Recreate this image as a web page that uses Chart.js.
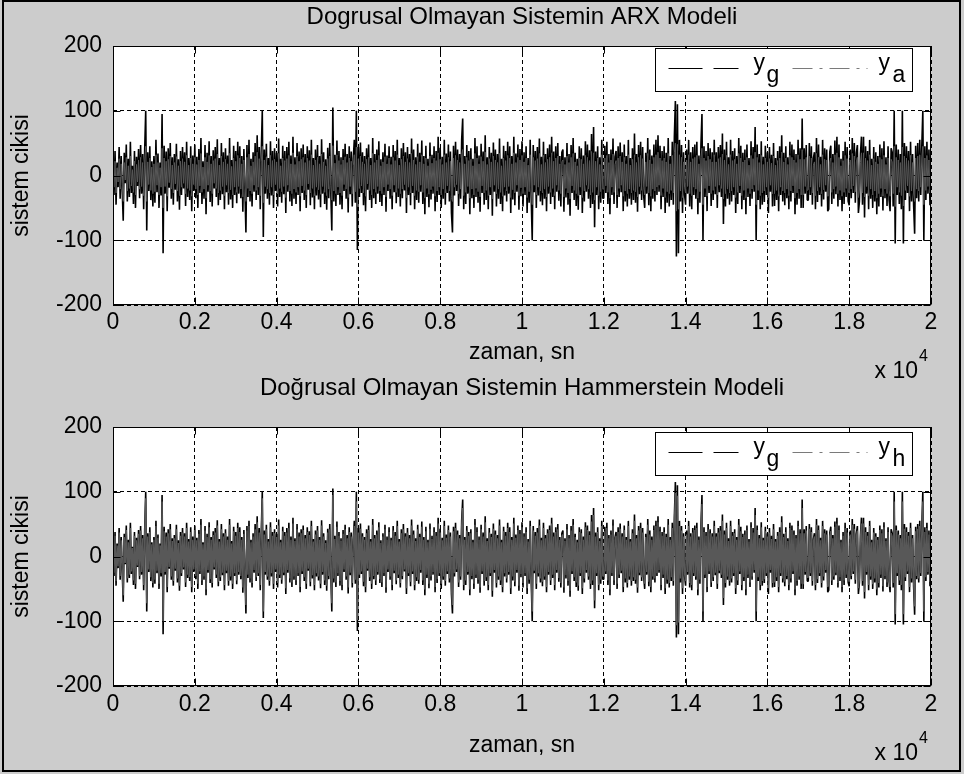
<!DOCTYPE html>
<html>
<head>
<meta charset="utf-8">
<script src="https://cdn.jsdelivr.net/npm/chart.js@4.4.0/dist/chart.umd.min.js"></script>
<style>
  html, body { margin:0; padding:0; }
  body { width:964px; height:774px; background:#cccccc; position:relative; overflow:hidden; }
  canvas { position:absolute; left:0; }
  #c1 { top:0; }
  #c2 { top:370px; }
  #frame { position:absolute; left:2px; top:0; width:959px; height:772px; border:2px solid #000; box-sizing:border-box; pointer-events:none; }
</style>
</head>
<body>
<canvas id="c1" width="964" height="385"></canvas>
<canvas id="c2" width="964" height="404"></canvas>
<div id="frame"></div>
<script>
// ---- data ----
const xTickLabels = ['0','0.2','0.4','0.6','0.8','1','1.2','1.4','1.6','1.8','2'];
const yTickLabels = ['-200','-100','0','100','200'];
const sampleStep = 25; // time between samples (sn)

// measured system output y_g (same in both panels)
const ygValues = [
 12,-30,38,-45,20,-18,44,-36,30,-22, -70,35,-12,48,-40,26,-33,52,-27,15, -44,38,-50,29,-16,41,-35,47,-28,33, -52,40,100,-85,36,-24,45,-38,22,-48,
 30,-42,55,-26,34,-50,20,-31,95,-120, 46,-28,37,-55,42,-19,50,-36,28,-45, 33,-22,49,-40,25,-53,38,-30,44,-20, 36,-47,52,-33,27,-38,45,-55,31,-24,
 48,-35,29,-50,41,-27,58,-44,22,-36, 47,-60,35,-25,53,-41,30,-48,39,-20, 44,-33,56,-46,27,-38,50,-29,36,-52, 42,-26,31,-45,58,-37,24,-50,46,-30,
 38,-43,52,-28,45,-35,30,-56,41,-22, -88,47,-33,55,-40,26,-48,36,-25,50, -38,62,-30,44,-52,35,100,-95,40,-28, 49,-36,27,-45,53,-31,38,-50,42,-24,
 35,-48,57,-33,26,-42,46,-29,38,-58, 44,-25,52,-40,31,-47,60,-36,28,-44, 50,-30,37,-55,42,-27,48,-38,33,-50, 45,-22,39,-46,55,-34,27,-52,40,-31,
 47,-37,30,-49,56,-28,36,-44,25,-53, 43,-35,50,-26,-85,105,-40,32,-47,54, -30,38,-45,28,-52,41,-24,49,-36,33, -57,45,-29,37,-48,26,55,-42,100,-115,
 44,-33,51,-27,36,-46,30,-55,42,-22, 48,-38,27,-50,58,-35,33,-44,40,-28, 53,-41,25,-47,36,-30,49,-56,31,-24, 45,-36,29,-52,47,-26,38,-43,55,-33,
 27,-48,42,-35,50,-23,36,-58,44,-30, 33,-46,57,-27,40,-52,28,-38,49,-42, 35,-25,54,-44,30,-60,46,-33,26,-49, 51,-37,32,-28,45,-55,38,-41,60,-30,
 43,-50,29,-36,55,-45,34,-27,48,-40, 37,-58,-88,46,-31,52,-24,40,-47,33, -36,55,88,-52,30,-44,47,-28,38,-60, 42,-35,26,-50,58,-33,45,-42,31,-56,
 49,-27,37,-45,62,-38,28,-52,44,-30, 35,-62,51,-25,40,-48,33,-36,57,-44, 26,-55,46,-31,38,-40,52,-28,45,-58, 30,-37,60,-46,34,-25,48,-53,41,-32,
 53,-48,36,-30,45,-58,27,-42,55,-35, -100,47,-26,38,-50,44,-31,57,-40,29, -46,52,-36,33,-55,42,-28,48,-44,60, -33,37,-52,45,-25,50,-39,30,-48,36,
 40,-56,28,-34,50,-45,33,-62,47,-27, 58,-38,35,-47,26,-53,45,-30,42,-58, 31,-40,53,-25,48,-36,39,-50,64,-44, 75,-80,37,-30,45,-52,28,-42,55,-35,
 -35,46,-27,52,-44,33,-60,40,-30,57, -44,29,38,-50,45,-33,51,-26,36,-55, 48,-40,30,-48,55,-36,27,-45,42,-38, 65,-42,33,-56,47,-29,52,-38,44,-31,
 -50,35,-28,58,-46,40,-55,31,-36,48, -40,55,-30,62,-25,46,-52,38,-33,45, -58,35,-42,58,-48,30,-38,52,-45,60, 115,-125,110,-120,55,-40,47,-58,36,-30,
 -45,40,-28,55,-48,36,-52,44,-30,48, -36,52,-60,31,-42,47,95,-100,45,-33, 38,-55,50,-27,42,-47,36,-38,55,-29, 36,-50,44,-26,47,-33,65,-75,40,-48,
 52,-36,28,-45,55,-40,38,-30,42,-58, 30,-44,58,-27,46,-52,35,-38,40,-60, 48,-33,27,-47,53,-36,44,-25,75,-100, 48,-38,33,-52,53,-45,29,-41,46,-30,
 36,-58,44,-25,32,-48,50,-47,27,-38, 38,-55,45,-30,62,-40,35,-46,45,-35, 28,-52,52,-40,48,-27,40,-60,33,-45, 55,-36,42,-50,88,-50,42,-28,47,-38,
 -38,50,-30,45,-45,27,36,-52,58,-41, 48,-30,29,-48,55,-37,42,-25,40,-55, -52,36,46,-44,33,-36,54,-29,60,-48, 48,-38,26,-55,38,-44,52,-33,44,-40,
 -46,40,-35,58,-27,50,-42,35,47,-58, -40,33,60,-45,60,-65,45,-28,38,-52, 55,-36,26,-50,44,-40,36,-60,30,-48, 48,-33,42,-54,53,-35,28,-47,45,-38,
 -55,42,36,-48,100,-105,48,-30,40,-44, 33,-52,100,-105,50,-38,45,-27,38,-55, 52,-40,33,-46,-90,46,-35,50,-40,55, -30,45,100,-100,45,-38,52,-28,40,-46,
 30
];

// ARX model output y_a (top panel)
const yaValues = [
 8,-18,22,-27,12,-10,26,-21,18,-13, -40,20,-7,28,-24,15,-20,30,-16,9, -26,22,-30,17,-10,24,-21,28,-17,20, -31,24,45,-40,21,-14,27,-23,13,-28,
 18,-25,32,-15,20,-30,12,-18,42,-50, 27,-17,22,-32,25,-11,30,-21,16,-27, 20,-13,29,-24,15,-31,22,-18,26,-12, 21,-28,31,-20,16,-23,27,-32,18,-14,
 28,-21,17,-30,24,-16,34,-26,13,-21, 28,-35,21,-15,31,-24,18,-28,23,-12, 26,-20,33,-27,16,-23,30,-17,21,-31, 25,-15,18,-27,34,-22,14,-30,27,-18,
 22,-26,31,-17,27,-21,18,-33,24,-13, -40,28,-20,33,-24,15,-28,21,-15,30, -23,36,-18,26,-31,21,45,-42,24,-17, 29,-21,16,-27,31,-18,23,-30,25,-14,
 21,-28,34,-20,15,-25,27,-17,23,-34, 26,-15,31,-24,18,-28,35,-21,17,-26, 30,-18,22,-32,25,-16,28,-23,20,-30, 27,-13,23,-27,32,-20,16,-31,24,-18,
 28,-22,18,-29,33,-17,21,-26,15,-31, 26,-21,30,-15,-38,46,-24,19,-28,32, -18,23,-27,17,-31,24,-14,29,-21,20, -34,27,-17,22,-28,15,32,-25,44,-48,
 26,-20,30,-16,21,-27,18,-32,25,-13, 28,-23,16,-30,34,-21,20,-26,24,-17, 31,-24,15,-28,21,-18,29,-33,18,-14, 27,-21,17,-31,28,-15,23,-26,32,-20,
 16,-28,25,-21,30,-14,21,-34,26,-18, 20,-27,34,-16,24,-31,17,-23,29,-25, 21,-15,32,-26,18,-35,27,-20,15,-29, 30,-22,19,-17,27,-32,23,-24,35,-18,
 25,-30,17,-21,32,-27,20,-16,28,-24, 22,-34,-40,27,-18,31,-14,24,-28,20, -21,32,40,-31,18,-26,28,-17,23,-35, 25,-21,15,-30,34,-20,27,-25,18,-33,
 29,-16,22,-27,36,-23,17,-31,26,-18, 21,-36,30,-15,24,-28,20,-21,34,-26, 15,-32,27,-18,23,-24,31,-17,27,-34, 18,-22,35,-27,20,-15,28,-31,24,-19,
 31,-28,21,-18,27,-34,16,-25,32,-21, -45,28,-15,23,-30,26,-18,34,-24,17, -27,31,-21,20,-33,25,-17,28,-26,35, -20,22,-31,27,-15,30,-23,18,-28,21,
 24,-33,17,-20,30,-27,20,-36,28,-16, 34,-23,21,-28,15,-31,27,-18,25,-34, 18,-24,31,-15,28,-21,23,-30,37,-26, 35,-38,22,-18,27,-31,17,-25,32,-21,
 -21,27,-16,31,-26,20,-35,24,-18,33, -26,17,23,-30,27,-20,30,-15,21,-32, 28,-24,18,-28,32,-21,16,-27,25,-23, 32,-25,20,-33,28,-17,31,-23,26,-18,
 -30,21,-17,34,-27,24,-32,18,-21,28, -24,32,-18,36,-15,27,-31,23,-20,27, -34,21,-25,34,-28,18,-23,31,-27,35, 50,-55,48,-52,32,-24,28,-34,21,-18,
 -27,24,-17,32,-28,21,-31,26,-18,28, -21,31,-35,18,-25,28,42,-45,27,-20, 23,-32,30,-16,25,-28,21,-23,32,-17, 21,-30,26,-15,28,-20,33,-36,24,-28,
 31,-21,17,-27,32,-24,23,-18,25,-34, 18,-26,34,-16,27,-31,21,-23,24,-35, 28,-20,16,-28,31,-21,26,-15,36,-45, 28,-23,20,-31,31,-27,17,-24,27,-18,
 21,-34,26,-15,19,-28,30,-28,16,-23, 23,-32,27,-18,36,-24,21,-27,27,-21, 17,-31,31,-24,28,-16,24,-35,20,-27, 32,-21,25,-30,40,-30,25,-17,28,-23,
 -22,30,-18,27,-27,16,21,-31,34,-24, 28,-18,17,-28,32,-22,25,-15,24,-32, -31,21,27,-26,20,-21,32,-17,35,-28, 28,-23,15,-32,23,-26,31,-20,26,-24,
 -27,24,-21,34,-16,30,-25,21,28,-34, -24,20,35,-27,35,-33,27,-17,23,-31, 32,-21,16,-30,26,-24,21,-35,18,-28, 28,-20,25,-32,31,-21,17,-28,27,-23,
 -32,25,21,-28,45,-48,28,-18,24,-26, 20,-31,44,-47,30,-23,27,-16,23,-32, 31,-24,20,-27,-40,27,-21,30,-24,32, -18,27,45,-45,27,-23,31,-17,24,-27,
 18
];

// Hammerstein model output y_h (bottom panel)
const yhValues = [
 10,-25,32,-38,17,-15,37,-30,25,-19, -60,30,-10,41,-34,22,-28,44,-23,13, -37,32,-42,25,-14,35,-30,40,-24,28, -44,34,90,-72,31,-20,38,-32,19,-41,
 26,-36,47,-22,29,-42,17,-26,85,-100, 39,-24,31,-47,36,-16,42,-31,24,-38, 28,-19,42,-34,21,-45,32,-26,37,-17, 31,-40,44,-28,23,-32,38,-47,26,-20,
 41,-30,25,-42,35,-23,49,-37,19,-31, 40,-51,30,-21,45,-35,26,-41,33,-17, 37,-28,48,-39,23,-32,42,-25,31,-44, 36,-22,26,-38,49,-31,20,-42,39,-26,
 32,-37,44,-24,38,-30,26,-48,35,-19, -75,40,-28,47,-34,22,-41,31,-21,42, -32,53,-26,37,-44,30,90,-85,34,-24, 42,-31,23,-38,45,-26,32,-42,36,-20,
 30,-41,48,-28,22,-36,39,-25,32,-49, 37,-21,44,-34,26,-40,51,-31,24,-37, 42,-26,31,-47,36,-23,41,-32,28,-42, 38,-19,33,-39,47,-29,23,-44,34,-26,
 40,-31,26,-42,48,-24,31,-37,21,-45, 37,-30,42,-22,-72,95,-34,27,-40,46, -26,32,-38,24,-44,35,-20,42,-31,28, -48,38,-25,31,-41,22,47,-36,85,-98,
 37,-28,43,-23,31,-39,26,-47,36,-19, 41,-32,23,-42,49,-30,28,-37,34,-24, 45,-35,21,-40,31,-26,42,-48,26,-20, 38,-31,25,-44,40,-22,32,-37,47,-28,
 23,-41,36,-30,42,-20,31,-49,37,-26, 28,-39,48,-23,34,-44,24,-32,42,-36, 30,-21,46,-37,26,-51,39,-28,22,-42, 43,-31,27,-24,38,-47,32,-35,51,-26,
 37,-42,25,-31,47,-38,29,-23,41,-34, 31,-49,-75,39,-26,44,-20,34,-40,28, -31,47,75,-44,26,-37,40,-24,32,-51, 36,-30,22,-42,49,-28,38,-36,26,-48,
 42,-23,31,-38,53,-32,24,-44,37,-26, 30,-53,43,-21,34,-41,28,-31,48,-37, 22,-47,39,-26,32,-34,44,-24,38,-49, 26,-31,51,-39,29,-21,41,-45,35,-27,
 45,-41,31,-26,38,-49,23,-36,47,-30, -85,40,-22,32,-42,37,-26,48,-34,25, -39,44,-31,28,-47,36,-24,41,-37,51, -28,31,-44,38,-21,42,-33,26,-41,31,
 34,-48,24,-29,42,-38,28,-53,40,-23, 49,-32,30,-40,22,-45,38,-26,36,-49, 26,-34,45,-21,41,-31,33,-42,54,-37, 64,-68,31,-26,38,-44,24,-36,47,-30,
 -30,39,-23,44,-37,28,-51,34,-26,48, -37,25,32,-42,38,-28,43,-22,31,-47, 41,-34,26,-41,47,-31,23,-38,36,-32, 55,-36,28,-48,40,-25,44,-32,37,-26,
 -42,30,-24,49,-39,34,-47,26,-31,41, -34,47,-26,53,-21,39,-44,32,-28,38, -49,30,-36,49,-41,26,-32,44,-38,51, 98,-106,94,-102,47,-34,40,-49,31,-26,
 -38,34,-24,47,-41,31,-44,37,-26,41, -31,44,-51,26,-36,40,81,-85,38,-28, 32,-47,42,-23,36,-40,31,-32,47,-25, 31,-42,37,-22,40,-28,55,-64,34,-41,
 44,-31,24,-38,47,-34,32,-26,36,-49, 26,-37,49,-23,39,-44,30,-32,34,-51, 41,-28,23,-40,45,-31,37,-21,64,-85, 41,-32,28,-44,45,-38,25,-35,39,-26,
 31,-49,37,-21,27,-41,42,-40,23,-32, 32,-47,38,-26,53,-34,30,-39,38,-30, 24,-44,44,-34,41,-23,34,-51,28,-38, 47,-31,36,-42,75,-43,36,-24,40,-32,
 -32,43,-26,38,-38,23,31,-44,49,-35, 41,-26,25,-41,47,-31,36,-21,34,-47, -44,31,39,-37,28,-31,46,-25,51,-41, 41,-32,22,-47,32,-37,44,-28,37,-34,
 -39,34,-30,49,-23,43,-36,30,40,-49, -34,28,51,-38,51,-55,38,-24,32,-44, 47,-31,22,-43,37,-34,31,-51,26,-41, 41,-28,36,-46,45,-30,24,-40,38,-32,
 -47,36,31,-41,85,-89,41,-26,34,-37, 28,-44,85,-89,43,-32,38,-23,32,-47, 44,-34,28,-39,-77,39,-30,43,-34,47, -26,38,85,-85,38,-32,44,-24,34,-39,
 26
];

// ---- rendering ----
const FONT = "'Liberation Sans', Arial, Helvetica, sans-serif";
const FS = 23;
const toPoints = vals => vals.map((v, i) => ({x: i * sampleStep, y: v}));

function framePlugin(cfg) {
  return {
    id: 'matlabFrame',
    beforeDraw(chart) {
      const {ctx, chartArea: a} = chart;
      ctx.save();
      ctx.fillStyle = '#ffffff';
      ctx.fillRect(a.left, a.top, a.right - a.left, a.bottom - a.top);
      ctx.restore();
    },
    afterDatasetsDraw(chart) {
      const {ctx, chartArea: a, scales} = chart;
      ctx.save();
      ctx.strokeStyle = '#000';
      ctx.lineWidth = 1;
      ctx.setLineDash([]);
      const L = Math.round(a.left) + 0.5, R = Math.round(a.right) - 0.5;
      const T = Math.round(a.top) + 0.5, B = Math.round(a.bottom) - 0.5;
      ctx.strokeRect(L, T, R - L, B - T);
      ctx.beginPath();
      scales.x.ticks.forEach(t => {
        const px = Math.round(scales.x.getPixelForValue(t.value)) + 0.5;
        ctx.moveTo(px, B); ctx.lineTo(px, B - 7);
        ctx.moveTo(px, T); ctx.lineTo(px, T + 7);
      });
      scales.y.ticks.forEach(t => {
        const py = Math.round(scales.y.getPixelForValue(t.value)) + 0.5;
        ctx.moveTo(L, py); ctx.lineTo(L + 7, py);
        ctx.moveTo(R, py); ctx.lineTo(R - 7, py);
      });
      ctx.stroke();
      ctx.restore();
    },
    afterDraw(chart) {
      const {ctx, chartArea: a} = chart;
      ctx.save();
      // legend box
      const bx = Math.round(a.right) - 276 + 0.5, by = Math.round(a.top) + cfg.legendTop + 0.5;
      const bw = 257, bh = 43;
      ctx.fillStyle = '#fff';
      ctx.fillRect(bx, by, bw, bh);
      ctx.strokeStyle = '#000';
      ctx.lineWidth = 1;
      ctx.strokeRect(bx, by, bw, bh);
      const ly = by + 20;
      ctx.beginPath();
      ctx.setLineDash([34, 11]);
      ctx.moveTo(bx + 13, ly); ctx.lineTo(bx + 83, ly);
      ctx.strokeStyle = '#000';
      ctx.stroke();
      ctx.beginPath();
      ctx.setLineDash([20, 7, 3, 7]);
      ctx.moveTo(bx + 137, ly); ctx.lineTo(bx + 212, ly);
      ctx.strokeStyle = '#7a7a7a';
      ctx.stroke();
      ctx.setLineDash([]);
      ctx.fillStyle = '#000';
      ctx.textBaseline = 'alphabetic';
      ctx.textAlign = 'left';
      ctx.font = FS + 'px ' + FONT;
      ctx.fillText('y', bx + 98, by + 21);
      ctx.fillText(cfg.legendSubs[0], bx + 111, by + 33);
      ctx.fillText('y', bx + 223, by + 21);
      ctx.fillText(cfg.legendSubs[1], bx + 237, by + 33);
      // exponent label
      ctx.textAlign = 'right';
      ctx.fillText('x 10', Math.round(a.right) - 13, Math.round(a.bottom) + cfg.tenYOff);
      ctx.textAlign = 'left';
      ctx.font = '16px ' + FONT;
      ctx.fillText('4', Math.round(a.right) - 12, Math.round(a.bottom) + cfg.fourYOff);
      ctx.restore();
    }
  };
}

function makeChart(canvasId, cfg) {
  return new Chart(document.getElementById(canvasId), {
    type: 'line',
    data: {
      datasets: [
        {label: 'y_g', data: toPoints(ygValues), borderColor: '#000000', borderWidth: 1.6, borderJoinStyle: 'bevel', pointRadius: 0, tension: 0, order: 1},
        {label: cfg.modelLabel, data: toPoints(cfg.modelValues), borderColor: '#585858', borderWidth: cfg.modelWidth, borderJoinStyle: 'bevel', pointRadius: 0, tension: 0, order: 0}
      ]
    },
    options: {
      responsive: false,
      animation: false,
      devicePixelRatio: 1,
      events: [],
      layout: {padding: {left: 0, right: 33, top: 0, bottom: 0}},
      plugins: {
        legend: {display: false},
        tooltip: {enabled: false},
        title: {
          display: true, text: cfg.title, fullSize: false,
          color: '#000', font: {family: FONT, size: 24, weight: 'normal', lineHeight: 1.15},
          padding: {top: cfg.titlePadTop, bottom: cfg.titlePadBottom}
        }
      },
      scales: {
        x: {
          type: 'linear', min: 0, max: 20000,
          afterFit: s => { s.height = cfg.xAxisHeight; },
          grid: {color: '#000', lineWidth: 1, drawTicks: false},
          border: {display: false, dash: [4, 3]},
          ticks: {
            stepSize: 2000, autoSkip: false, maxRotation: 0, padding: cfg.xTickPad,
            color: '#000', font: {family: FONT, size: FS},
            callback: (v, i) => xTickLabels[i]
          },
          title: {display: true, text: 'zaman, sn', color: '#000', font: {family: FONT, size: FS}, padding: {top: 0, bottom: cfg.xTitlePadBottom}}
        },
        y: {
          type: 'linear', min: -200, max: 200,
          afterFit: s => { s.width = 113; },
          grid: {color: '#000', lineWidth: 1, drawTicks: false},
          border: {display: false, dash: [4, 3]},
          ticks: {
            stepSize: 100, padding: 11,
            color: '#000', font: {family: FONT, size: FS},
            callback: (v, i) => yTickLabels[i]
          },
          title: {display: true, text: 'sistem cikisi', color: '#000', font: {family: FONT, size: FS}, padding: {top: 8, bottom: 0}}
        }
      }
    },
    plugins: [framePlugin(cfg)]
  });
}

makeChart('c1', {
  title: 'Dogrusal Olmayan Sistemin ARX Modeli',
  modelLabel: 'y_a', modelValues: yaValues, modelWidth: 1, legendSubs: ['g', 'a'], legendTop: 2,
  titlePadTop: 4, titlePadBottom: 14.4,
  xAxisHeight: 80, xTickPad: 4, xTitlePadBottom: 19,
  tenYOff: 73, fourYOff: 56
});
makeChart('c2', {
  title: 'Doğrusal Olmayan Sistemin Hammerstein Modeli',
  modelLabel: 'y_h', modelValues: yhValues, modelWidth: 1.4, legendSubs: ['g', 'h'], legendTop: 5,
  titlePadTop: 5, titlePadBottom: 24.4,
  xAxisHeight: 88, xTickPad: 5, xTitlePadBottom: 15,
  tenYOff: 74, fourYOff: 57
});
</script>
</body>
</html>
